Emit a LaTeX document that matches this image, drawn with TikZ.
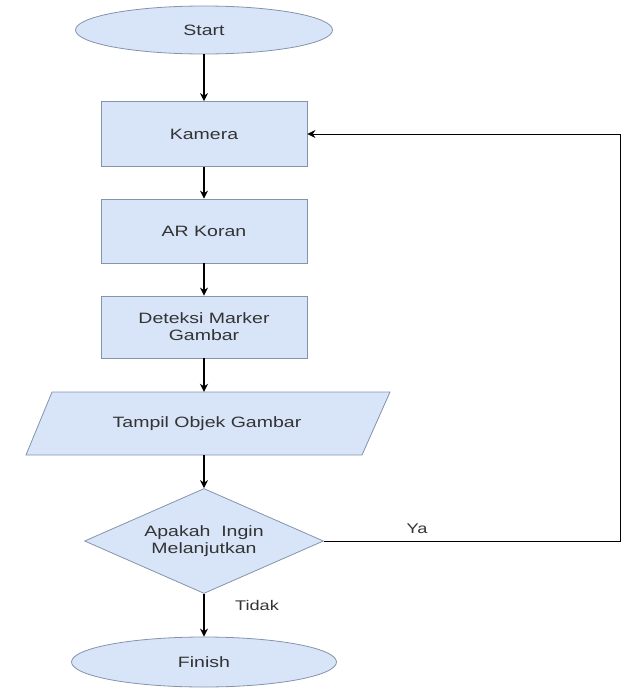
\documentclass[tikz,border=0pt]{standalone}
\usepackage{fontspec}
\setmainfont[FakeStretch=1.3]{Liberation Sans}
\usetikzlibrary{shapes.geometric,arrows.meta}
\definecolor{boxfill}{HTML}{D8E5F8}
\definecolor{boxline}{HTML}{8494AC}
\definecolor{txt}{HTML}{333333}
\begin{document}
\begin{tikzpicture}[x=1pt,y=-1pt,
  every node/.style={font=\fontsize{15}{17}\selectfont, text=txt, inner sep=0pt},
  terminal/.style={ellipse, draw=boxline, fill=boxfill, line width=0.8pt},
  procbox/.style={rectangle, draw=boxline, fill=boxfill, line width=0.8pt,
                  minimum width=206pt, align=center},
  decision/.style={diamond, draw=boxline, fill=boxfill, line width=0.8pt,
                   minimum width=239pt, minimum height=105pt, aspect=2.28, align=center},
  flow/.style={draw=black, line width=1.2pt, -{Stealth[length=8pt,width=8pt]}},
  back/.style={draw=black, line width=0.8pt, -{Stealth[length=8pt,width=8pt]}},
  lbl/.style={font=\fontsize{14}{16}\selectfont}
]
\useasboundingbox (0,0) rectangle (622,688);

\node[terminal, minimum width=257pt, minimum height=48pt] (start) at (204,30) {Start};
\node[procbox, minimum height=65pt] (kamera) at (204,134) {Kamera};
\node[procbox, minimum height=64pt] (arkoran) at (204,231) {AR Koran};
\node[procbox, minimum height=62pt] (deteksi) at (204,327) {Deteksi Marker\\Gambar};

% input/output parallelogram
\filldraw[draw=boxline, fill=boxfill, line width=0.8pt]
  (52,392) -- (390,392) -- (362,455) -- (26,455) -- cycle;
\node[minimum width=336pt, minimum height=63pt] (tampil) at (207,423.5) {Tampil Objek Gambar};

\node[decision] (tanya) at (204,541) {Apakah~~Ingin\\Melanjutkan};
\node[terminal, minimum width=265pt, minimum height=50pt] (finish) at (204,662) {Finish};

\coordinate (loop) at (620,0);

\draw[flow] (start.south) -- (kamera.north);
\draw[flow] (kamera.south) -- (arkoran.north);
\draw[flow] (arkoran.south) -- (deteksi.north);
\draw[flow] (deteksi.south) -- (deteksi.south |- tampil.north);
\draw[flow] (tampil.south -| tanya.north) -- (tanya.north);
\draw[flow] (tanya.south) -- (finish.north);
\draw[back] (tanya.east) -- (tanya.east -| loop) -- (kamera.east -| loop) -- (kamera.east);

\node[lbl] (ya) at (417,529) {Ya};
\node[lbl] (tidak) at (257,605) {Tidak};
\end{tikzpicture}
\end{document}
